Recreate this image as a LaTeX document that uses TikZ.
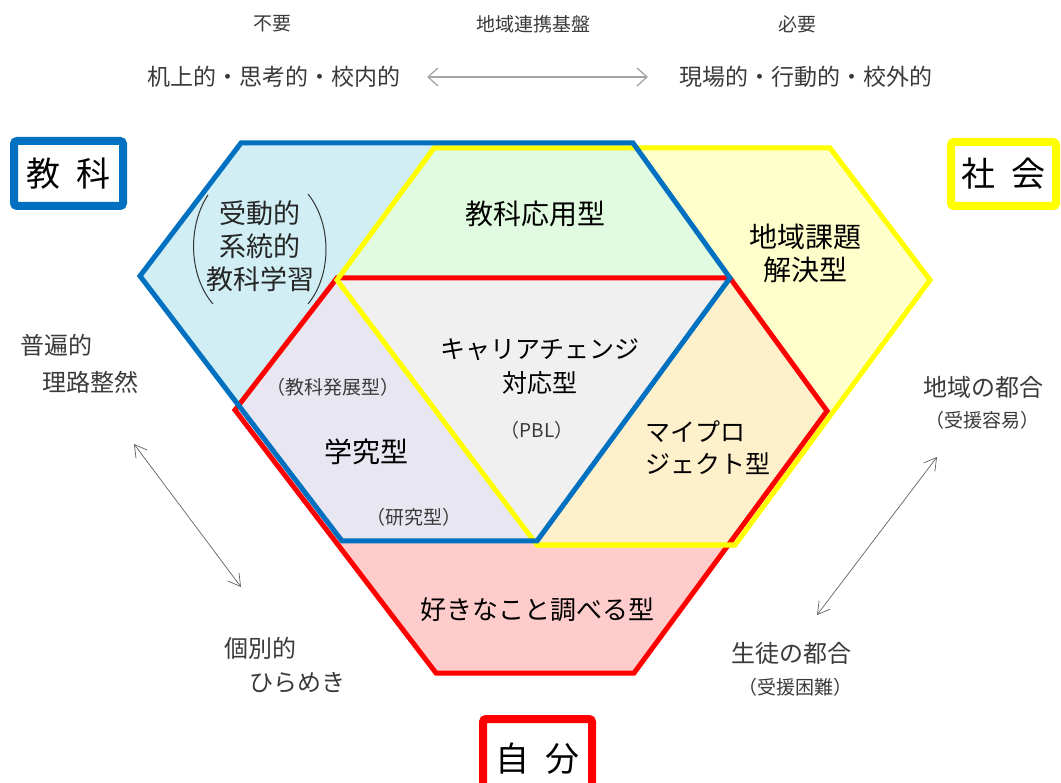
\documentclass[tikz,border=0pt]{standalone}
\usepackage{fontspec}
\setmainfont{Noto Sans CJK JP}
\usetikzlibrary{arrows.meta}
\definecolor{cBlue}{HTML}{0070C0}
\definecolor{cYel}{HTML}{FFFF00}
\definecolor{cRed}{HTML}{FF0000}
\definecolor{fCyan}{HTML}{D0EEF3}
\definecolor{fGreen}{HTML}{E0FBE0}
\definecolor{fYel}{HTML}{FFFFCC}
\definecolor{fGrey}{HTML}{F0F0F0}
\definecolor{fPurp}{HTML}{E8E6F0}
\definecolor{fOrg}{HTML}{FFF0CC}
\definecolor{fPink}{HTML}{FFCCCC}
\definecolor{tGrey}{HTML}{3A3A3A}
\definecolor{aGrey}{HTML}{A6A6A6}
\begin{document}
\begin{tikzpicture}[x=1pt,y=-1pt,
  hexline/.style={line width=5pt,line join=miter},
  lbl/.style={font=\fontsize{27}{33}\selectfont, text=black, inner sep=0pt, align=center},
  katalbl/.style={font=\fontsize{25}{32}\selectfont, text=black, inner sep=0pt, align=left},
  sublbl/.style={font=\fontsize{19}{24}\selectfont, text=tGrey, inner sep=0pt},
  sidelbl/.style={font=\fontsize{24}{30}\selectfont, text=tGrey, inner sep=0pt},
  toplbl/.style={font=\fontsize{19}{24}\selectfont, text=tGrey, inner sep=0pt},
  midlbl/.style={font=\fontsize{23}{28}\selectfont, text=tGrey, inner sep=0pt},
  boxlbl/.style={font=\fontsize{34}{40}\selectfont, text=black, inner sep=0pt, line width=8pt, rounded corners=3pt, minimum width=109pt, minimum height=65pt},
  toparrow/.style={draw=aGrey, line width=1.3pt, {Straight Barb[length=10pt,width=18pt]}-{Straight Barb[length=10pt,width=18pt]}},
  sidearrow/.style={draw=tGrey!80, line width=0.7pt, {Straight Barb[length=12pt,width=14pt]}-{Straight Barb[length=12pt,width=14pt]}}
]
\useasboundingbox (0,0) rectangle (1061,783);
% grid points
\coordinate (A) at (239.5,145);
\coordinate (B) at (436.5,145);
\coordinate (C) at (633.5,145);
\coordinate (D) at (830.5,145);
\coordinate (E) at (141,277.5);
\coordinate (F) at (338,277.5);
\coordinate (G) at (732,277.5);
\coordinate (H) at (929,277.5);
\coordinate (I) at (239.5,410);
\coordinate (J) at (830.5,410);
\coordinate (K) at (338,542.5);
\coordinate (L) at (535,542.5);
\coordinate (M) at (732,542.5);
\coordinate (N) at (436.5,675);
\coordinate (O) at (633.5,675);
% fills
\fill[fCyan] (A) -- (B) -- (F) -- (I) -- (E) -- cycle;
\fill[fGreen] (B) -- (C) -- (G) -- (F) -- cycle;
\fill[fYel] (C) -- (D) -- (H) -- (J) -- (G) -- cycle;
\fill[fGrey] (F) -- (G) -- (L) -- cycle;
\fill[fPurp] (F) -- (L) -- (K) -- (I) -- cycle;
\fill[fOrg] (G) -- (J) -- (M) -- (L) -- cycle;
\fill[fPink] (K) -- (M) -- (O) -- (N) -- cycle;
% outlines
\draw[hexline,cRed] (337,278) -- (730,278) -- (827,411) -- (634,673) -- (436,673) -- (235,410) -- cycle;
\draw[hexline,cYel] (434,148) -- (830,148) -- (930,280) -- (735,545) -- (537,545) -- (337,280) -- cycle;
\draw[hexline,cBlue] (241,143) -- (633,143) -- (730,278) -- (537,541) -- (342,541) -- (140,276) -- cycle;
% top texts
\node[toplbl] (t1) at (272,24) {不要};
\node[toplbl] (t2) at (533,24) {地域連携基盤};
\node[toplbl] (t3) at (797,24) {必要};
\node[midlbl] (ml) at (274,77) {机上的・思考的・校内的};
\node[midlbl] (mr) at (806,77) {現場的・行動的・校外的};
\coordinate (al) at (427,77);
\coordinate (ar) at (648,77);
\draw[toparrow] (al) -- (ar);
% corner boxes
\node[boxlbl, draw=cBlue] (kyoka) at (68.5,173.5) {教\hspace{0.45em}科};
\node[boxlbl, draw=cYel, minimum width=105pt, minimum height=64pt] (shakai) at (1003.5,174) {社\hspace{0.45em}会};
\node[boxlbl, draw=cRed, minimum height=80pt] (jibun) at (537.5,759) {自\hspace{0.45em}分};
% inner labels
\node[lbl, text=black!85] (judo) at (260,246) {受動的\\系統的\\教科学習};
\draw[line width=1pt, black!80] (208,195) .. controls (188,225) and (188,275) .. (213,304);
\draw[line width=1pt, black!80] (308,194) .. controls (332,224) and (332,275) .. (308,304);
\node[lbl, font=\fontsize{28}{33}\selectfont] (oyo) at (535,214) {教科応用型};
\node[lbl, font=\fontsize{28}{33}\selectfont] (chiiki) at (805,253) {地域課題\\解決型};
\node[lbl, font=\fontsize{25}{34}\selectfont] (career) at (540,367) {キャリアチェンジ\\対応型};
\node[sublbl] (pbl) at (537,430) {（PBL）};
\node[sublbl] (hatten) at (333,387) {（教科発展型）};
\node[lbl, font=\fontsize{28}{33}\selectfont] (gakkyu) at (366,452) {学究型};
\node[sublbl] (kenkyu) at (414,517) {（研究型）};
\node[katalbl, anchor=west] (mypro) at (645,448) {マイプロ\\ジェクト型};
\node[lbl, font=\fontsize{26}{33}\selectfont] (suki) at (537,610) {好きなこと調べる型};
% side texts
\node[sidelbl, anchor=west] (fuhen) at (20,345) {普遍的};
\node[sidelbl, anchor=west] (riro) at (42,382) {理路整然};
\node[sidelbl, anchor=west] (kobetsu) at (224,648) {個別的};
\node[sidelbl, anchor=west] (hirameki) at (249,683) {ひらめき};
\node[sidelbl, anchor=west] (tsugo1) at (923,387) {地域の都合};
\node[sublbl] (juen1) at (982,420) {（受援容易）};
\node[sidelbl, anchor=west] (tsugo2) at (731,653) {生徒の都合};
\node[sublbl] (juen2) at (795,687) {（受援困難）};
\coordinate (la1) at (134,444);
\coordinate (la2) at (241,587);
\coordinate (ra1) at (937,457);
\coordinate (ra2) at (817,615);
\draw[sidearrow] (la1) -- (la2);
\draw[sidearrow] (ra1) -- (ra2);
\end{tikzpicture}
\end{document}
